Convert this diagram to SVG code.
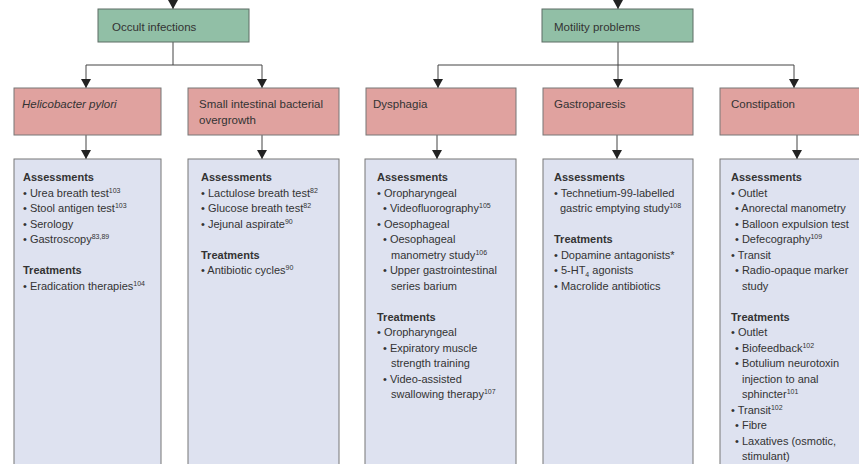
<svg xmlns="http://www.w3.org/2000/svg" width="859" height="464" viewBox="0 0 859 464">
<style>
text{font-family:"Liberation Sans",Arial,sans-serif;fill:#333;font-size:11px}
.h{font-size:11.5px}
.b{font-weight:bold}
.it{font-style:italic}
.g{fill:#91bfa6;stroke:#5c6d64;stroke-width:1}
.r{fill:#e0a29f;stroke:#777;stroke-width:1}
.bl{fill:#dee2f0;stroke:#777;stroke-width:1}
.c{fill:none;stroke:#444;stroke-width:1}
.s{font-size:7px}
</style>
<defs>
<marker id="ah" markerUnits="userSpaceOnUse" markerWidth="10" markerHeight="10" refX="9" refY="5" orient="auto">
<path d="M0,0 L9,5 L0,10 z" fill="#222"/>
</marker>
</defs>
<rect width="859" height="464" fill="#fff"/>
<g id="connectors">
<path class="c" d="M173,-10 V9" marker-end="url(#ah)"/>
<path class="c" d="M618,-10 V9" marker-end="url(#ah)"/>
<path class="c" d="M173,42 V65 M86,65 H262"/>
<path class="c" d="M86,65 V88" marker-end="url(#ah)"/>
<path class="c" d="M262,65 V88" marker-end="url(#ah)"/>
<path class="c" d="M438,65 H794"/>
<path class="c" d="M618,42 V88" marker-end="url(#ah)"/>
<path class="c" d="M438,65 V88" marker-end="url(#ah)"/>
<path class="c" d="M794,65 V88" marker-end="url(#ah)"/>
<path class="c" d="M86,135 V159" marker-end="url(#ah)"/>
<path class="c" d="M262,135 V159" marker-end="url(#ah)"/>
<path class="c" d="M437,135 V159" marker-end="url(#ah)"/>
<path class="c" d="M617,135 V159" marker-end="url(#ah)"/>
<path class="c" d="M797,135 V159" marker-end="url(#ah)"/>
</g>
<g id="occult">
<rect class="g" x="98" y="9" width="151" height="33"/>
<text class="h" x="112" y="31">Occult infections</text>
</g>
<g id="motility">
<rect class="g" x="542" y="9" width="151" height="33"/>
<text class="h" x="554" y="31">Motility problems</text>
</g>
<g id="hpylori">
<rect class="r" x="14" y="88" width="147" height="47"/>
<text class="h it" x="22" y="108">Helicobacter pylori</text>
</g>
<g id="sibo">
<rect class="r" x="188" y="88" width="151" height="47"/>
<text class="h" x="199" y="108">Small intestinal bacterial</text>
<text class="h" x="199" y="123.5">overgrowth</text>
</g>
<g id="dysphagia">
<rect class="r" x="366" y="88" width="150" height="47"/>
<text class="h" x="373" y="108">Dysphagia</text>
</g>
<g id="gastroparesis">
<rect class="r" x="543" y="88" width="150" height="47"/>
<text class="h" x="554" y="108">Gastroparesis</text>
</g>
<g id="constipation">
<rect class="r" x="720" y="88" width="150" height="47"/>
<text class="h" x="731" y="108">Constipation</text>
</g>
<g id="hpylori-details">
<rect class="bl" x="14" y="159" width="147" height="320"/>
<text class="b" x="23" y="181">Assessments</text>
<text x="23" y="196.5">• Urea breath test<tspan class="s" dy="-4">103</tspan></text>
<text x="23" y="212">• Stool antigen test<tspan class="s" dy="-4">103</tspan></text>
<text x="23" y="227.5">• Serology</text>
<text x="23" y="243">• Gastroscopy<tspan class="s" dy="-4">83,89</tspan></text>
<text class="b" x="23" y="274">Treatments</text>
<text x="23" y="289.5">• Eradication therapies<tspan class="s" dy="-4">104</tspan></text>
</g>
<g id="sibo-details">
<rect class="bl" x="188" y="159" width="151" height="320"/>
<text class="b" x="201" y="181">Assessments</text>
<text x="201" y="196.5">• Lactulose breath test<tspan class="s" dy="-4">82</tspan></text>
<text x="201" y="212">• Glucose breath test<tspan class="s" dy="-4">82</tspan></text>
<text x="201" y="227.5">• Jejunal aspirate<tspan class="s" dy="-4">90</tspan></text>
<text class="b" x="201" y="258.5">Treatments</text>
<text x="201" y="274">• Antibiotic cycles<tspan class="s" dy="-4">90</tspan></text>
</g>
<g id="dysphagia-details">
<rect class="bl" x="365" y="159" width="151" height="320"/>
<text class="b" x="377" y="181">Assessments</text>
<text x="377" y="196.5">• Oropharyngeal</text>
<text x="383" y="212">• Videofluorography<tspan class="s" dy="-4">105</tspan></text>
<text x="377" y="227.5">• Oesophageal</text>
<text x="383" y="243">• Oesophageal</text>
<text x="391" y="258.5">manometry study<tspan class="s" dy="-4">106</tspan></text>
<text x="383" y="274">• Upper gastrointestinal</text>
<text x="391" y="289.5">series barium</text>
<text class="b" x="377" y="320.5">Treatments</text>
<text x="377" y="336">• Oropharyngeal</text>
<text x="383" y="351.5">• Expiratory muscle</text>
<text x="391" y="367">strength training</text>
<text x="383" y="382.5">• Video-assisted</text>
<text x="391" y="398">swallowing therapy<tspan class="s" dy="-4">107</tspan></text>
</g>
<g id="gastroparesis-details">
<rect class="bl" x="543" y="159" width="150" height="320"/>
<text class="b" x="554" y="181">Assessments</text>
<text x="554" y="196.5">• Technetium-99-labelled</text>
<text x="560" y="212">gastric emptying study<tspan class="s" dy="-4">108</tspan></text>
<text class="b" x="554" y="243">Treatments</text>
<text x="554" y="258.5">• Dopamine antagonists*</text>
<text x="554" y="274">• 5-HT<tspan class="s" dy="3">4</tspan><tspan dy="-3"> agonists</tspan></text>
<text x="554" y="289.5">• Macrolide antibiotics</text>
</g>
<g id="constipation-details">
<rect class="bl" x="720" y="159" width="150" height="320"/>
<text class="b" x="731" y="181">Assessments</text>
<text x="731" y="196.5">• Outlet</text>
<text x="735" y="212">• Anorectal manometry</text>
<text x="735" y="227.5">• Balloon expulsion test</text>
<text x="735" y="243">• Defecography<tspan class="s" dy="-4">109</tspan></text>
<text x="731" y="258.5">• Transit</text>
<text x="735" y="274">• Radio-opaque marker</text>
<text x="742" y="289.5">study</text>
<text class="b" x="731" y="320.5">Treatments</text>
<text x="731" y="336">• Outlet</text>
<text x="735" y="351.5">• Biofeedback<tspan class="s" dy="-4">102</tspan></text>
<text x="735" y="367">• Botulium neurotoxin</text>
<text x="742" y="382.5">injection to anal</text>
<text x="742" y="398">sphincter<tspan class="s" dy="-4">101</tspan></text>
<text x="731" y="413.5">• Transit<tspan class="s" dy="-4">102</tspan></text>
<text x="735" y="429">• Fibre</text>
<text x="735" y="444.5">• Laxatives (osmotic,</text>
<text x="742" y="460">stimulant)</text>
</g>
</svg>
